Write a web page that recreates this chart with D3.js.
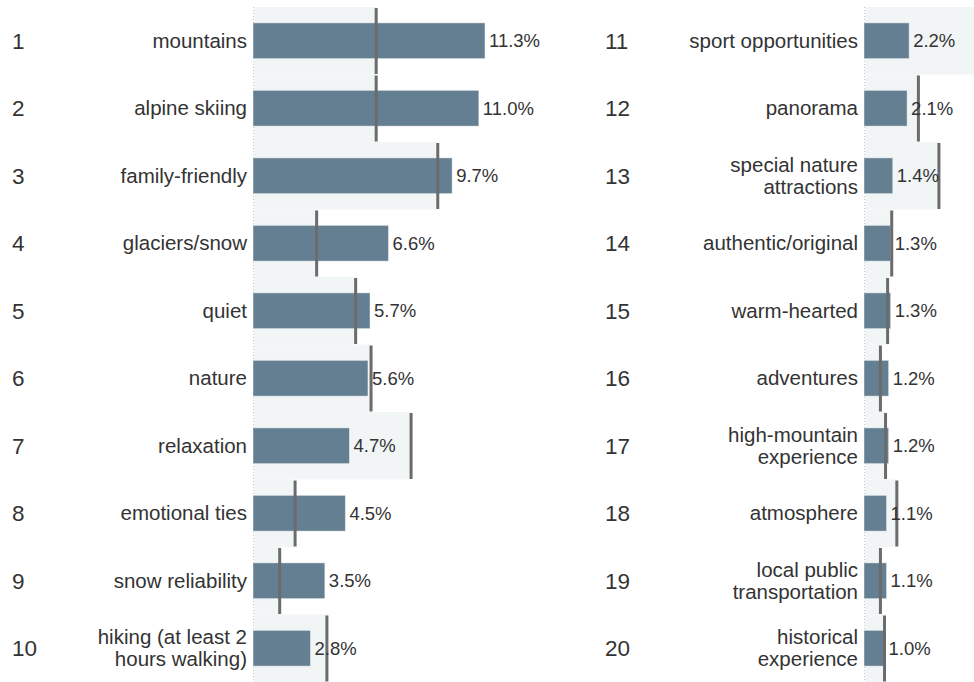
<!DOCTYPE html>
<html>
<head>
<meta charset="utf-8">
<script src="https://cdn.jsdelivr.net/npm/d3@7"></script>
<style>
  body { margin: 0; background: #fff; }
  svg { display: block; font-family: "Liberation Sans", Arial, Helvetica, sans-serif; }
</style>
</head>
<body>
<svg id="chart" width="974" height="682"></svg>
<script>
// chart data
var categories = [
  "mountains", "alpine skiing", "family-friendly", "glaciers/snow", "quiet",
  "nature", "relaxation", "emotional ties", "snow reliability", "hiking (at least 2\nhours walking)",
  "sport opportunities", "panorama", "special nature\nattractions", "authentic/original", "warm-hearted",
  "adventures", "high-mountain\nexperience", "atmosphere", "local public\ntransportation", "historical\nexperience"
];
var ranks = ["1", "2", "3", "4", "5", "6", "7", "8", "9", "10",
             "11", "12", "13", "14", "15", "16", "17", "18", "19", "20"];
var shares = [11.3, 11.0, 9.7, 6.6, 5.7, 5.6, 4.7, 4.5, 3.5, 2.8,
              2.2, 2.1, 1.4, 1.3, 1.3, 1.2, 1.2, 1.1, 1.1, 1.0];
var benchmark = [6.0, 6.0, 9.0, 3.1, 5.0, 5.75, 7.7, 2.05, 1.3, 3.6,
                 6.5, 2.65, 3.65, 1.35, 1.15, 0.8, 1.05, 1.6, 0.8, 1.0];

var svg = d3.select("#chart");

var rows = categories.map(function (c, i) {
  return { name: c, rank: ranks[i], value: shares[i], comp: benchmark[i], i: i };
});

var panels = [
  { rows: rows.slice(0, 10), x0: 253, rankX: 12 },
  { rows: rows.slice(10, 20), x0: 864, rankX: 605 }
];

var y = d3.scaleBand()
    .domain(d3.range(10))
    .range([7, 682])
    .paddingInner(0);

var barH = y.bandwidth() * 0.53;

panels.forEach(function (p) {
  var x = d3.scaleLinear().domain([0, 16]).range([p.x0, p.x0 + 16 * 20.53]);

  var g = svg.append("g");

  // dotted baseline
  g.append("line")
    .attr("x1", x(0) + 0.5).attr("x2", x(0) + 0.5)
    .attr("y1", 7).attr("y2", 682)
    .attr("stroke", "#c8c8c8")
    .attr("stroke-dasharray", "1,2");

  var row = g.selectAll(".row")
    .data(p.rows)
    .enter().append("g")
      .attr("class", "row")
      .attr("transform", function (d, k) { return "translate(0," + y(k) + ")"; });

  // comparison background
  row.append("rect")
    .attr("x", x(0) + 1)
    .attr("y", 0)
    .attr("width", function (d) { return x(d.comp) - x(0) - 1; })
    .attr("height", y.bandwidth())
    .attr("fill", "#f1f5f6");

  row.append("rect")
    .attr("class", "bar")
    .attr("x", x(0))
    .attr("y", (y.bandwidth() - barH) / 2)
    .attr("width", function (d) { return x(d.value) - x(0); })
    .attr("height", barH)
    .attr("fill", "#647f91")
    .attr("stroke", "#ffffff")
    .attr("stroke-opacity", 0.45)
    .attr("stroke-width", 1);

  // comparison marker
  row.append("line")
    .attr("x1", function (d) { return x(d.comp); })
    .attr("x2", function (d) { return x(d.comp); })
    .attr("y1", 1)
    .attr("y2", y.bandwidth() - 0.5)
    .attr("stroke", "#6b6b6b")
    .attr("stroke-width", 3);

  row.append("text")
    .attr("x", function (d) { return x(d.value) + 4; })
    .attr("y", y.bandwidth() / 2)
    .attr("dy", "0.35em")
    .attr("font-size", 18.5)
    .attr("fill", "#333")
    .text(function (d) { return d.value.toFixed(1) + "%"; });

  row.append("text")
    .attr("x", p.rankX)
    .attr("y", y.bandwidth() / 2)
    .attr("dy", "0.36em")
    .attr("font-size", 22.5)
    .attr("fill", "#333")
    .text(function (d) { return d.rank; });

  var lab = row.append("text")
    .attr("x", x(0) - 6)
    .attr("y", y.bandwidth() / 2)
    .attr("text-anchor", "end")
    .attr("font-size", 20.5)
    .attr("fill", "#333");

  lab.each(function (d) {
    var lines = d.name.split("\n");
    var t = d3.select(this);
    lines.forEach(function (s, j) {
      t.append("tspan")
        .attr("x", x(0) - 6)
        .attr("dy", j === 0 ? (0.35 - (lines.length - 1) * 0.54) + "em" : "1.08em")
        .text(s);
    });
  });
});
</script>
</body>
</html>
